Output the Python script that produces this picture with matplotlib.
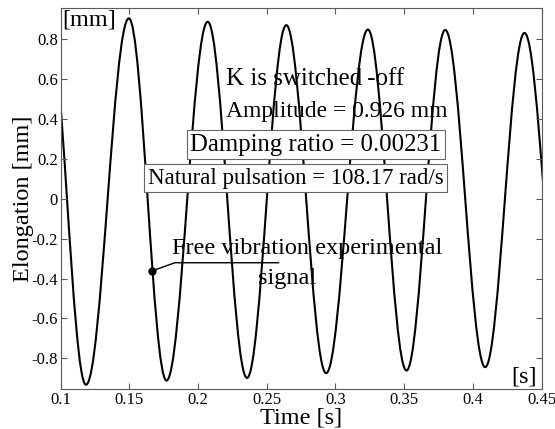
import matplotlib
matplotlib.use("Agg")
import matplotlib.pyplot as plt
from matplotlib.path import Path
from matplotlib.patches import PathPatch

ext_t = [0.0908, 0.1184, 0.1496, 0.1770, 0.2070, 0.2356, 0.2642, 0.2932,
         0.3236, 0.3517, 0.3799, 0.4090, 0.4376, 0.4664]
ext_y = [0.925, -0.932, 0.903, -0.911, 0.886, -0.898, 0.869, -0.874,
         0.847, -0.861, 0.845, -0.844, 0.830, -0.830]

x_ticks = [0.1, 0.15, 0.2, 0.25, 0.3, 0.35, 0.4, 0.45]
x_ticklabels = ["0.1", "0.15", "0.2", "0.25", "0.3", "0.35", "0.4", "0.45"]
y_ticks = [-0.8, -0.6, -0.4, -0.2, 0, 0.2, 0.4, 0.6, 0.8]
y_ticklabels = ["-0.8", "-0.6", "-0.4", "-0.2", "0", "0.2", "0.4", "0.6", "0.8"]

marker_t, marker_y = 0.1661, -0.363

plt.rcParams['font.family'] = ['Liberation Serif', 'DejaVu Serif']


def signal_path(ts, ys):
    # smooth quarter-wave bezier segments between extrema
    verts = [(ts[0], ys[0])]
    codes = [Path.MOVETO]
    for xa, ya, xb, yb in zip(ts[:-1], ys[:-1], ts[1:], ys[1:]):
        xm, ym = (xa + xb) / 2, (ya + yb) / 2
        dx = xm - xa
        verts += [(xa + 0.360 * dx, ya), (xa + 0.674 * dx, ym + 0.5122 * (ya - ym)), (xm, ym),
                  (xm + 0.326 * dx, ym + 0.5122 * (yb - ym)), (xm + 0.640 * dx, yb), (xb, yb)]
        codes += [Path.CURVE4] * 6
    return Path(verts, codes)


fig = plt.figure(figsize=(5.55, 4.29), dpi=100)
ax = fig.add_axes([0.1094, 0.0925, 0.8663, 0.8889])

ax.add_patch(PathPatch(signal_path(ext_t, ext_y), fill=False, ec='black', lw=1.5,
                       joinstyle='round', capstyle='round'))

ax.set_xlim(0.1, 0.45)
ax.set_ylim(-0.955, 0.955)
ax.set_xticks(x_ticks)
ax.set_xticklabels(x_ticklabels)
ax.set_yticks(y_ticks)
ax.set_yticklabels(y_ticklabels)
ax.tick_params(direction='in', length=4, width=0.8, color='0.35', labelsize=12,
               top=True, right=True, pad=2)
for sp in ax.spines.values():
    sp.set_color('0.35')
    sp.set_linewidth(0.8)

ax.set_xlabel("Time [s]", fontsize=17.5, labelpad=-0.5)
ax.set_ylabel("Elongation [mm]", fontsize=17.5, labelpad=-2)

ax.text(0.1012, 0.945, "[mm]", fontsize=17.5, va='top', ha='left')
ax.text(0.4465, -0.945, "[s]", fontsize=17.5, va='bottom', ha='right')

ax.text(0.2201, 0.599, "K is switched\u2009-off", fontsize=18, ha='left', va='center')
ax.text(0.2201, 0.437, "Amplitude = 0.926 mm", fontsize=17, ha='left', va='center')
ax.text(0.3771, 0.270, "Damping ratio = 0.00231", fontsize=17.8, ha='right', va='center',
        bbox=dict(boxstyle='square,pad=0.14', fc='white', ec='0.4', lw=0.8))
ax.text(0.3786, 0.103, "Natural pulsation = 108.17 rad/s", fontsize=16.5, ha='right', va='center',
        bbox=dict(boxstyle='square,pad=0.14', fc='white', ec='0.4', lw=0.8))

ax.text(0.1810, -0.252, "Free vibration experimental", fontsize=17.5, ha='left', va='center')
ax.text(0.2434, -0.398, "signal", fontsize=17.5, ha='left', va='center')

# leader line from the marked point to the caption
ax.plot([marker_t, 0.1831, 0.2586], [marker_y, -0.321, -0.321], color='black', lw=1)
ax.plot([marker_t], [marker_y], 'o', color='black', ms=5)

fig.savefig("out.png", dpi=100)
